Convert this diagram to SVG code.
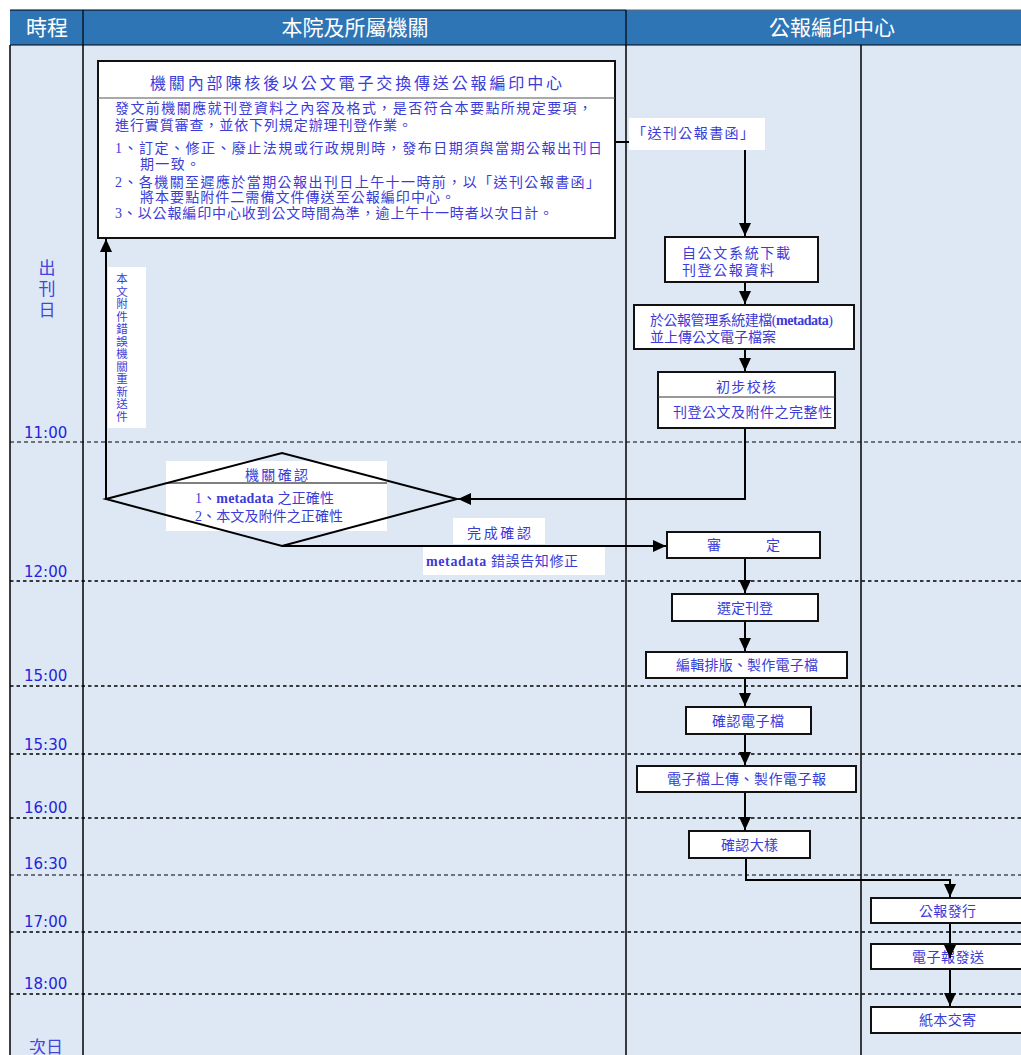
<svg xmlns="http://www.w3.org/2000/svg" width="1021" height="1055" viewBox="0 0 1021 1055">
<defs>
<marker id="ahb" markerWidth="14" markerHeight="14" refX="13" refY="7" orient="auto" markerUnits="userSpaceOnUse">
<path d="M0,1 L13,7 L0,13 z" fill="#000"/>
</marker>
<style>
.hd{font-family:"Noto Sans CJK TC","Liberation Sans",sans-serif;font-size:21px;fill:#fff;text-anchor:middle}
.tm{font-family:"DejaVu Sans",sans-serif;font-size:15px;fill:#2424dc}
.t{font-family:"Liberation Serif","Noto Sans CJK TC",serif;font-size:14px;fill:#3b3bd8}
.c{text-anchor:middle}
.box{fill:#fff;stroke:#111;stroke-width:2}
.lane{stroke:#000;stroke-width:1.5;fill:none}
.dot{stroke:#000;stroke-width:1.6;stroke-dasharray:3.5,3}
.dsh{stroke:#000;stroke-width:1;stroke-dasharray:4,3}
.cn{stroke:#000;stroke-width:2;fill:none}
.lbl{fill:#fff}
.b{font-weight:bold}
</style>
</defs>
<!-- background -->
<rect x="10" y="45" width="1011" height="1010" fill="#dde8f4"/>
<!-- header -->
<g id="header">
<rect x="10" y="10" width="1011" height="35" fill="#2e75b6"/>
<line x1="10" y1="10" x2="626" y2="10" stroke="#000" stroke-width="1.2"/>
<line x1="626" y1="10" x2="1021" y2="10" stroke="#666" stroke-width="1.2"/>
<line x1="10" y1="45" x2="1021" y2="45" stroke="#000" stroke-width="1.2"/>
<line x1="83" y1="10" x2="83" y2="45" stroke="#000" stroke-width="1.2"/>
<line x1="626" y1="10" x2="626" y2="45" stroke="#000" stroke-width="1.2"/>
<text class="hd" x="47" y="35">時程</text>
<text class="hd" x="355" y="35">本院及所屬機關</text>
<text class="hd" x="832" y="35">公報編印中心</text>
</g>
<!-- lanes -->
<g id="lanes">
<line class="lane" x1="10" y1="45" x2="10" y2="1055"/>
<line class="lane" x1="83" y1="45" x2="83" y2="1055"/>
<line class="lane" x1="626" y1="45" x2="626" y2="1055"/>
<line class="lane" x1="861" y1="45" x2="861" y2="1055"/>
</g>
<!-- time lines -->
<g id="timelines">
<line class="dsh" x1="10" y1="442" x2="1021" y2="442"/>
<line class="dot" x1="10" y1="581" x2="1021" y2="581"/>
<line class="dot" x1="10" y1="686" x2="1021" y2="686"/>
<line class="dot" x1="10" y1="754" x2="1021" y2="754"/>
<line class="dot" x1="10" y1="818" x2="1021" y2="818"/>
<line class="dsh" x1="10" y1="875" x2="1021" y2="875"/>
<line class="dot" x1="10" y1="932" x2="1021" y2="932"/>
<line class="dot" x1="10" y1="994" x2="1021" y2="994"/>
</g>
<g id="timelabels">
<text x="47" y="274" class="t c" style="font-size:17px;fill:#4545dd">出</text>
<text x="47" y="295" class="t c" style="font-size:17px;fill:#4545dd">刊</text>
<text x="47" y="316" class="t c" style="font-size:17px;fill:#4545dd">日</text>
<text class="tm" x="24" y="438">11:00</text>
<text class="tm" x="24" y="577">12:00</text>
<text class="tm" x="24" y="681">15:00</text>
<text class="tm" x="24" y="750">15:30</text>
<text class="tm" x="24" y="813">16:00</text>
<text class="tm" x="24" y="869">16:30</text>
<text class="tm" x="24" y="927">17:00</text>
<text class="tm" x="24" y="989">18:00</text>
<text x="46" y="1053" class="t c" style="font-size:17px;fill:#4545dd">次日</text>
</g>
<!-- connectors -->
<g id="connectors">
<polyline class="cn" points="615,142 745,142 745,236" marker-end="url(#ahb)" stroke-width="1.5"/>
<line class="cn" x1="745" y1="282" x2="745" y2="304" marker-end="url(#ahb)"/>
<line class="cn" x1="745" y1="349" x2="745" y2="371" marker-end="url(#ahb)"/>
<polyline class="cn" points="745,428 745,499 458,499" marker-end="url(#ahb)" stroke="#333" stroke-width="1.5"/>
<polyline class="cn" points="106,499 106,239" marker-end="url(#ahb)"/>
<line class="cn" x1="282" y1="546" x2="666" y2="546" marker-end="url(#ahb)" stroke-width="1.5"/>
<line class="cn" x1="745" y1="558" x2="745" y2="593" marker-end="url(#ahb)"/>
<line class="cn" x1="745" y1="621" x2="745" y2="651" marker-end="url(#ahb)"/>
<line class="cn" x1="745" y1="678" x2="745" y2="706" marker-end="url(#ahb)"/>
<line class="cn" x1="745" y1="734" x2="745" y2="765" marker-end="url(#ahb)"/>
<line class="cn" x1="745" y1="792" x2="745" y2="830" marker-end="url(#ahb)"/>
<polyline class="cn" points="746,858 746,880 950,880 950,897" marker-end="url(#ahb)" stroke="#555" stroke-width="1.2"/>
<line class="cn" x1="950" y1="923" x2="950" y2="958" marker-end="url(#ahb)"/>
<line class="cn" x1="950" y1="969" x2="950" y2="1006" marker-end="url(#ahb)"/>
</g>
<!-- connector labels -->
<g id="clabels">
<rect class="lbl" x="629" y="118" width="136" height="32"/>
<text class="t" x="632" y="138" textLength="122" lengthAdjust="spacing">「送刊公報書函」</text>
<rect class="lbl" x="108" y="267" width="38" height="161"/>
<g class="t c" style="font-size:11.5px">
<text x="122" y="283">本</text><text x="122" y="295.5">文</text><text x="122" y="308">附</text><text x="122" y="320.5">件</text><text x="122" y="333">錯</text><text x="122" y="345.5">誤</text><text x="122" y="358">機</text><text x="122" y="370.5">關</text><text x="122" y="383">重</text><text x="122" y="395.5">新</text><text x="122" y="408">送</text><text x="122" y="420.5">件</text>
</g>
<rect class="lbl" x="453" y="518" width="92" height="26"/>
<text class="t" x="467" y="538" textLength="64" lengthAdjust="spacing">完成確認</text>
<rect class="lbl" x="423" y="547" width="182" height="28"/>
<text class="t" x="426" y="566" textLength="152" lengthAdjust="spacing"><tspan class="b">metadata</tspan> 錯誤告知修正</text>
</g>
<!-- nodes -->
<g id="n_top">
<rect class="box" x="98" y="61" width="517" height="177"/>
<line x1="98" y1="98" x2="615" y2="98" stroke="#555" stroke-width="1.2"/>
<text class="t" x="150" y="89" style="font-size:16px" textLength="412" lengthAdjust="spacing">機關內部陳核後以公文電子交換傳送公報編印中心</text>
<text class="t" x="115" y="113" textLength="477" lengthAdjust="spacing">發文前機關應就刊登資料之內容及格式，是否符合本要點所規定要項，</text>
<text class="t" x="115" y="130" textLength="297" lengthAdjust="spacing">進行實質審查，並依下列規定辦理刊登作業。</text>
<text class="t" x="115" y="153" textLength="487" lengthAdjust="spacing">1、訂定、修正、廢止法規或行政規則時，發布日期須與當期公報出刊日</text>
<text class="t" x="140" y="169" textLength="60" lengthAdjust="spacing">期一致。</text>
<text class="t" x="115" y="187" textLength="485" lengthAdjust="spacing">2、各機關至遲應於當期公報出刊日上午十一時前，以「送刊公報書函」</text>
<text class="t" x="140" y="202" textLength="315" lengthAdjust="spacing">將本要點附件二需備文件傳送至公報編印中心。</text>
<text class="t" x="115" y="218" textLength="438" lengthAdjust="spacing">3、以公報編印中心收到公文時間為準，逾上午十一時者以次日計。</text>
</g>
<g id="n_download">
<rect class="box" x="665" y="237" width="153" height="45"/>
<text class="t" x="682" y="258" textLength="108" lengthAdjust="spacing">自公文系統下載</text>
<text class="t" x="682" y="275" textLength="92" lengthAdjust="spacing">刊登公報資料</text>
</g>
<g id="n_build">
<rect class="box" x="634" y="305" width="220" height="44"/>
<text class="t" x="650" y="325" textLength="183" lengthAdjust="spacing">於公報管理系統建檔(<tspan class="b">metadata</tspan>)</text>
<text class="t" x="650" y="342" textLength="126" lengthAdjust="spacing">並上傳公文電子檔案</text>
</g>
<g id="n_check">
<rect class="box" x="658" y="372" width="177" height="56"/>
<line x1="658" y1="397" x2="835" y2="397" stroke="#333" stroke-width="1"/>
<text class="t" x="716" y="392" textLength="60" lengthAdjust="spacing">初步校核</text>
<text class="t" x="673" y="417" textLength="159" lengthAdjust="spacing">刊登公文及附件之完整性</text>
</g>
<g id="n_confirm">
<rect class="lbl" x="166" y="461" width="221" height="70"/>
<line x1="166" y1="483" x2="387" y2="483" stroke="#000" stroke-width="1"/>
<polygon points="106,499 282,453 457,499 282,546" fill="none" stroke="#000" stroke-width="2"/>
<text class="t" x="245" y="480" textLength="63" lengthAdjust="spacing">機關確認</text>
<text class="t" x="195" y="503" textLength="139" lengthAdjust="spacing">1、<tspan class="b">metadata</tspan> 之正確性</text>
<text class="t" x="195" y="521" textLength="148" lengthAdjust="spacing">2、本文及附件之正確性</text>
</g>
<g id="n_review">
<rect class="box" x="667" y="532" width="153" height="26"/>
<text class="t" x="707" y="550">審</text>
<text class="t" x="766" y="550">定</text>
</g>
<g id="n_select">
<rect class="box" x="672" y="594" width="146" height="27"/>
<text class="t" x="717" y="613" textLength="56" lengthAdjust="spacing">選定刊登</text>
</g>
<g id="n_layout">
<rect class="box" x="646" y="652" width="201" height="26"/>
<text class="t" x="676" y="670" textLength="142" lengthAdjust="spacing">編輯排版、製作電子檔</text>
</g>
<g id="n_efile">
<rect class="box" x="686" y="707" width="125" height="27"/>
<text class="t" x="712" y="726" textLength="72" lengthAdjust="spacing">確認電子檔</text>
</g>
<g id="n_upload">
<rect class="box" x="637" y="766" width="219" height="26"/>
<text class="t" x="667" y="784" textLength="159" lengthAdjust="spacing">電子檔上傳、製作電子報</text>
</g>
<g id="n_proof">
<rect class="box" x="689" y="831" width="121" height="27"/>
<text class="t" x="721" y="850" textLength="57" lengthAdjust="spacing">確認大樣</text>
</g>
<g id="n_issue">
<rect class="box" x="871" y="898" width="152" height="25"/>
<text class="t" x="919" y="916" textLength="57" lengthAdjust="spacing">公報發行</text>
</g>
<g id="n_esend">
<rect class="box" x="871" y="944" width="152" height="25"/>
<text class="t" x="912" y="962" textLength="72" lengthAdjust="spacing">電子報發送</text>
</g>
<line class="cn" x1="950" y1="944" x2="950" y2="958" marker-end="url(#ahb)"/>
<g id="n_mail">
<rect class="box" x="871" y="1007" width="152" height="26"/>
<text class="t" x="919" y="1025" textLength="57" lengthAdjust="spacing">紙本交寄</text>
</g>
</svg>
